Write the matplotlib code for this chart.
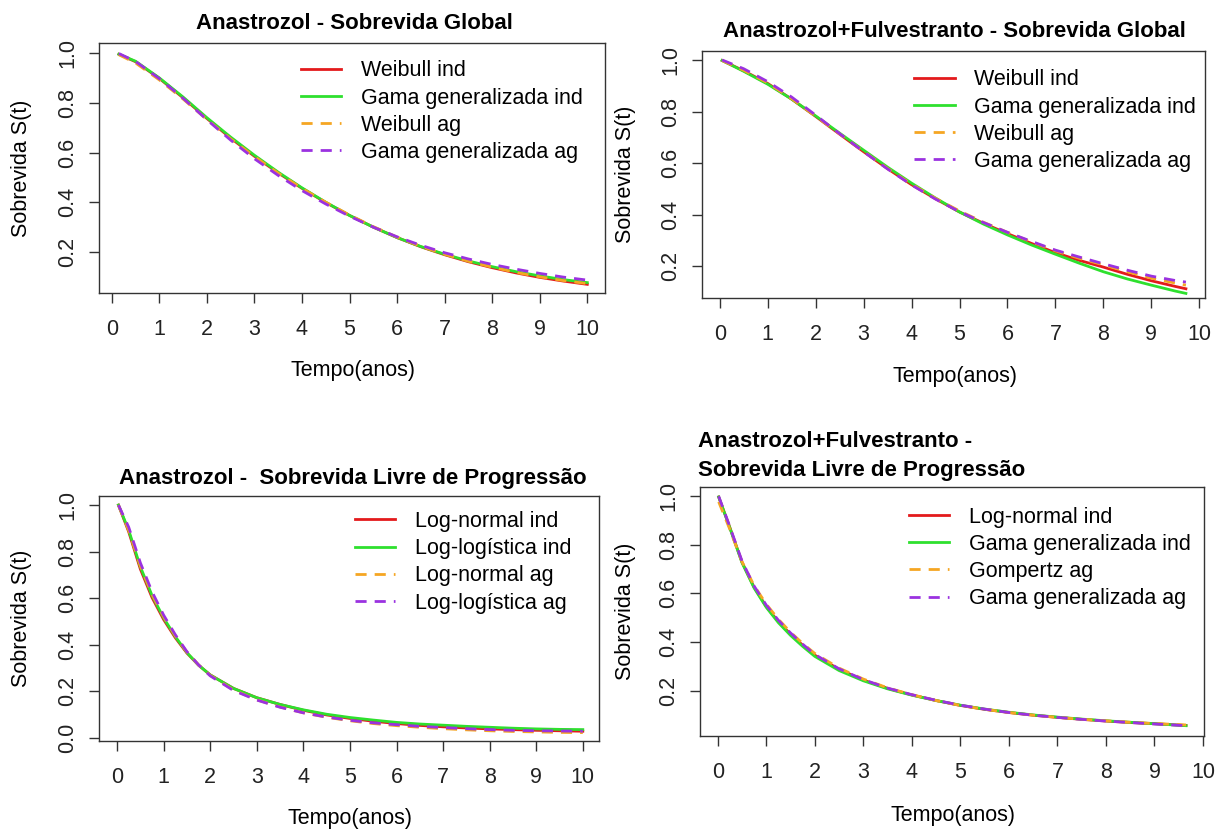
import matplotlib
matplotlib.use('Agg')
import matplotlib.pyplot as plt

plt.rcParams['font.family'] = ['Liberation Sans', 'DejaVu Sans']

W, H = 1216, 830

# ---------------- data ----------------
# Panel 1: Anastrozol - Sobrevida Global
t1 = [0.15, 0.5, 1, 1.5, 2, 2.5, 3, 3.5, 4, 4.5, 5, 5.5, 6, 6.5, 7, 7.5, 8, 8.5, 9, 9.5, 10]
p1_weib_ind = [0.995, 0.965, 0.898, 0.820, 0.737, 0.658, 0.585, 0.518, 0.456, 0.399, 0.347, 0.300, 0.258, 0.221, 0.189, 0.161, 0.137, 0.116, 0.098, 0.083, 0.070]
p1_gg_ind = [0.995, 0.967, 0.900, 0.823, 0.740, 0.662, 0.589, 0.521, 0.458, 0.400, 0.347, 0.300, 0.258, 0.222, 0.191, 0.164, 0.141, 0.121, 0.104, 0.089, 0.077]
p1_weib_ag = [0.993, 0.960, 0.892, 0.815, 0.733, 0.655, 0.584, 0.517, 0.456, 0.400, 0.349, 0.302, 0.260, 0.223, 0.191, 0.163, 0.139, 0.118, 0.100, 0.085, 0.073]
p1_gg_ag = [0.998, 0.966, 0.897, 0.818, 0.732, 0.650, 0.575, 0.508, 0.447, 0.393, 0.344, 0.300, 0.261, 0.227, 0.197, 0.172, 0.150, 0.131, 0.114, 0.099, 0.087]
p1_labels = ["Weibull ind", "Gama generalizada ind", "Weibull ag", "Gama generalizada ag"]

# Panel 2: Anastrozol+Fulvestranto - Sobrevida Global
t2 = [0.05, 0.5, 1, 1.5, 2, 2.5, 3, 3.5, 4, 4.5, 5, 5.5, 6, 6.5, 7, 7.5, 8, 8.5, 9, 9.5, 9.72]
p2_weib_ind = [0.998, 0.958, 0.909, 0.848, 0.781, 0.712, 0.644, 0.578, 0.516, 0.461, 0.410, 0.366, 0.326, 0.288, 0.252, 0.222, 0.196, 0.168, 0.143, 0.121, 0.112]
p2_gg_ind = [0.998, 0.956, 0.906, 0.848, 0.783, 0.716, 0.650, 0.584, 0.522, 0.464, 0.410, 0.363, 0.321, 0.282, 0.246, 0.211, 0.178, 0.150, 0.126, 0.103, 0.094]
p2_weib_ag = [0.998, 0.960, 0.911, 0.850, 0.782, 0.713, 0.645, 0.579, 0.518, 0.463, 0.414, 0.370, 0.331, 0.294, 0.259, 0.230, 0.205, 0.178, 0.153, 0.134, 0.126]
p2_gg_ag = [1.000, 0.966, 0.916, 0.856, 0.786, 0.714, 0.644, 0.577, 0.515, 0.460, 0.411, 0.369, 0.331, 0.296, 0.262, 0.235, 0.209, 0.184, 0.161, 0.144, 0.138]
p2_labels = ["Weibull ind", "Gama generalizada ind", "Weibull ag", "Gama generalizada ag"]

# Panel 3: Anastrozol - Sobrevida Livre de Progressão
t3 = [0.03, 0.25, 0.5, 0.75, 1, 1.25, 1.5, 1.75, 2, 2.5, 3, 3.5, 4, 4.5, 5, 5.5, 6, 6.5, 7, 7.5, 8, 8.5, 9, 9.5, 10]
p3_lnorm_ind = [1.0, 0.885, 0.725, 0.603, 0.508, 0.430, 0.364, 0.312, 0.270, 0.212, 0.172, 0.143, 0.118, 0.098, 0.083, 0.071, 0.061, 0.053, 0.047, 0.042, 0.038, 0.035, 0.032, 0.030, 0.028]
p3_llog_ind = [1.0, 0.892, 0.735, 0.612, 0.515, 0.435, 0.366, 0.312, 0.270, 0.212, 0.172, 0.143, 0.120, 0.101, 0.087, 0.076, 0.066, 0.059, 0.054, 0.049, 0.045, 0.041, 0.038, 0.036, 0.035]
p3_lnorm_ag = [1.0, 0.892, 0.738, 0.617, 0.520, 0.438, 0.368, 0.313, 0.268, 0.205, 0.163, 0.132, 0.107, 0.088, 0.073, 0.061, 0.052, 0.045, 0.039, 0.034, 0.030, 0.027, 0.025, 0.023, 0.022]
p3_llog_ag = [1.0, 0.905, 0.752, 0.628, 0.527, 0.443, 0.370, 0.313, 0.266, 0.203, 0.162, 0.131, 0.107, 0.089, 0.075, 0.064, 0.056, 0.049, 0.044, 0.039, 0.035, 0.032, 0.030, 0.029, 0.028]
p3_labels = ["Log-normal ind", "Log-logística ind", "Log-normal ag", "Log-logística ag"]

# Panel 4: Anastrozol+Fulvestranto - Sobrevida Livre de Progressão
t4 = [0.02, 0.25, 0.5, 0.75, 1, 1.25, 1.5, 1.75, 2, 2.5, 3, 3.5, 4, 4.5, 5, 5.5, 6, 6.5, 7, 7.5, 8, 8.5, 9, 9.65]
p4_lnorm_ind = [0.995, 0.870, 0.728, 0.625, 0.546, 0.484, 0.433, 0.388, 0.347, 0.289, 0.245, 0.211, 0.184, 0.161, 0.141, 0.125, 0.112, 0.101, 0.092, 0.084, 0.077, 0.071, 0.066, 0.059]
p4_gg_ind = [0.995, 0.868, 0.726, 0.622, 0.543, 0.480, 0.428, 0.383, 0.342, 0.284, 0.242, 0.209, 0.183, 0.161, 0.142, 0.126, 0.113, 0.102, 0.093, 0.085, 0.078, 0.072, 0.066, 0.058]
p4_gomp_ag = [0.975, 0.862, 0.730, 0.632, 0.556, 0.494, 0.441, 0.395, 0.354, 0.294, 0.249, 0.213, 0.185, 0.161, 0.141, 0.125, 0.112, 0.101, 0.092, 0.084, 0.078, 0.072, 0.067, 0.061]
p4_gg_ag = [0.998, 0.873, 0.733, 0.630, 0.552, 0.490, 0.438, 0.392, 0.350, 0.291, 0.247, 0.212, 0.185, 0.162, 0.142, 0.126, 0.112, 0.101, 0.092, 0.084, 0.077, 0.071, 0.065, 0.058]
p4_labels = ["Log-normal ind", "Gama generalizada ind", "Gompertz ag", "Gama generalizada ag"]

x_ticks = [0, 1, 2, 3, 4, 5, 6, 7, 8, 9, 10]
xlabel = "Tempo(anos)"
ylabel = "Sobrevida S(t)"

# ---------------- styling ----------------
COLORS = ['#E31A1C', '#2EE02E', '#F5A623', '#9A32E0']
DASH = (0, (4.0, 2.9))
STYLES = ['-', '-', DASH, DASH]
LW = 2.0
FS = 15.5
TFS = 16

fig = plt.figure(figsize=(W / 100, H / 100), dpi=100)


def fx(x):
    return x / W


def fy(y):
    return 1 - y / H


panels = [
    dict(box=(98.9, 604.9, 43.3, 293.3), xlim=(-0.27, 10.37), ylim=(0.034, 1.039),
         yticks=[0.2, 0.4, 0.6, 0.8, 1.0], t=t1,
         series=[p1_weib_ind, p1_gg_ind, p1_weib_ag, p1_gg_ag], labels=p1_labels,
         title="Anastrozol - Sobrevida Global", title_xy=(354.8, 23.3), title_ha='center',
         leg=(300.5, 60.3), ylab=(21.3, 168.3), xlab=(352.9, 370)),
    dict(box=(702.2, 1205.1, 50.7, 298.3), xlim=(-0.365, 10.12), ylim=(0.075, 1.036),
         yticks=[0.2, 0.4, 0.6, 0.8, 1.0], t=t2,
         series=[p2_weib_ind, p2_gg_ind, p2_weib_ag, p2_gg_ag], labels=p2_labels,
         title="Anastrozol+Fulvestranto - Sobrevida Global", title_xy=(954, 31.7), title_ha='center',
         leg=(914.3, 69.3), ylab=(625.4, 174.5), xlab=(955, 376.7)),
    dict(box=(98.9, 599.1, 496, 741), xlim=(-0.39, 10.35), ylim=(-0.014, 1.039),
         yticks=[0.0, 0.2, 0.4, 0.6, 0.8, 1.0], t=t3,
         series=[p3_lnorm_ind, p3_llog_ind, p3_lnorm_ag, p3_llog_ag], labels=p3_labels,
         title="Anastrozol -  Sobrevida Livre de Progressão", title_xy=(352.8, 478.3), title_ha='center',
         leg=(354.8, 510.8), ylab=(21.3, 618.5), xlab=(350, 818.3)),
    dict(box=(699.9, 1204, 486.7, 735.7), xlim=(-0.367, 10.02), ylim=(0.017, 1.037),
         yticks=[0.2, 0.4, 0.6, 0.8, 1.0], t=t4,
         series=[p4_lnorm_ind, p4_gg_ind, p4_gomp_ag, p4_gg_ag], labels=p4_labels,
         title="Anastrozol+Fulvestranto -\nSobrevida Livre de Progressão", title_xy=(698, 455.8), title_ha='left',
         leg=(908.5, 506.5), ylab=(625.4, 611.2), xlab=(953, 815)),
]

for p in panels:
    l, r, t, b = p['box']
    ax = fig.add_axes([fx(l), fy(b), fx(r) - fx(l), (b - t) / H])
    for vals, lab, c, ls in zip(p['series'], p['labels'], COLORS, STYLES):
        ax.plot(p['t'], vals, color=c, linestyle=ls, lw=LW, label=lab)
    ax.set_xlim(*p['xlim'])
    ax.set_ylim(*p['ylim'])
    ax.set_xticks(x_ticks)
    ax.set_xticklabels([str(v) for v in x_ticks])
    ax.set_yticks(p['yticks'])
    ax.set_yticklabels([f"{v:.1f}" for v in p['yticks']], rotation=90, va='center')
    ax.tick_params(axis='both', length=7.2, width=1.0, color='#333333', labelsize=FS,
                   labelcolor='#222222', direction='out')
    ax.tick_params(axis='x', pad=11.5)
    ax.tick_params(axis='y', pad=7.8)
    for s in ax.spines.values():
        s.set_color('#333333')
        s.set_linewidth(1.0)
    ax.legend(loc='upper left', bbox_to_anchor=(fx(p['leg'][0]), fy(p['leg'][1])),
              bbox_transform=fig.transFigure, frameon=False, fontsize=FS,
              borderpad=0, borderaxespad=0, handlelength=1.89, handletextpad=0.9,
              labelspacing=0.29)
    tx, ty = p['title_xy']
    fig.text(fx(tx), fy(ty), p['title'], ha=p['title_ha'], va='center', fontsize=TFS,
             fontweight='bold', linespacing=1.5)
    fig.text(fx(p['ylab'][0]), fy(p['ylab'][1]), ylabel, rotation=90, ha='center', va='center',
             fontsize=FS)
    fig.text(fx(p['xlab'][0]), fy(p['xlab'][1]), xlabel, ha='center', va='center', fontsize=FS)

fig.savefig('out.png', dpi=100)
